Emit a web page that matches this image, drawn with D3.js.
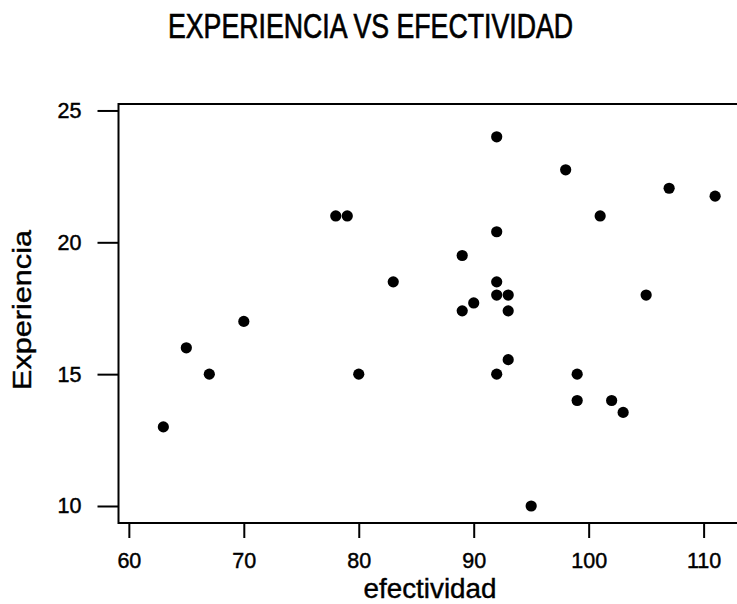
<!DOCTYPE html>
<html>
<head>
<meta charset="utf-8">
<script src="https://cdn.jsdelivr.net/npm/d3@7"></script>
<style>
  html, body { margin: 0; padding: 0; background: #fff; }
  svg { display: block; }
  text { font-family: "Liberation Sans", Arial, Helvetica, sans-serif; fill: #000; }
</style>
</head>
<body>
<svg id="chart" width="737" height="604"></svg>
<script>
// Efectividad (x) and years of experience (y) for each person
const efectividad = [63, 65, 67, 70, 78, 79, 80, 83, 89, 89, 90, 92, 92, 92, 92, 92,
                     93, 93, 93, 95, 98, 99, 99, 101, 102, 103, 105, 107, 111];
const experiencia = [13, 16, 15, 17, 21, 21, 15, 18.5, 19.5, 17.4, 17.7, 24, 20.4, 18.5, 18, 15,
                     18, 17.4, 15.55, 10, 22.75, 15, 14, 21, 14, 13.55, 18, 22.05, 21.75];
const xTicks = [60, 70, 80, 90, 100, 110];
const yTicks = [10, 15, 20, 25];

const titleText = "EXPERIENCIA VS EFECTIVIDAD";
const xLabel = "efectividad";
const yLabel = "Experiencia";

const svg = d3.select("#chart");

const frame = { left: 118.5, top: 104, bottom: 523, right: 745 };

const x = d3.scaleLinear().domain([59.1, 113.6]).range([frame.left, frame.right]);
const y = d3.scaleLinear().domain([9.355, 25.245]).range([frame.bottom, frame.top]);

// Plot frame (right side runs past the page edge)
svg.append("rect")
  .attr("x", frame.left).attr("y", frame.top)
  .attr("width", frame.right - frame.left).attr("height", frame.bottom - frame.top)
  .attr("fill", "none").attr("stroke", "#000").attr("stroke-width", 2);

// Y axis
const yAxis = svg.append("g")
  .attr("transform", `translate(${frame.left},0)`)
  .call(d3.axisLeft(y).tickValues(yTicks).tickSize(21).tickPadding(16).tickSizeOuter(0));
yAxis.select(".domain").remove();
yAxis.selectAll(".tick line").attr("stroke", "#000").attr("stroke-width", 2);
yAxis.selectAll(".tick text")
  .attr("font-size", 21.5).attr("font-family", null).attr("fill", "#000")
  .attr("stroke", "#000").attr("stroke-width", 0.45);

// X axis
const xAxis = svg.append("g")
  .attr("transform", `translate(0,${frame.bottom})`)
  .call(d3.axisBottom(x).tickValues(xTicks).tickSize(15).tickPadding(15).tickSizeOuter(0));
xAxis.select(".domain").remove();
xAxis.selectAll(".tick line").attr("stroke", "#000").attr("stroke-width", 2);
xAxis.selectAll(".tick text")
  .attr("font-size", 21.5).attr("font-family", null).attr("fill", "#000")
  .attr("stroke", "#000").attr("stroke-width", 0.45);

// Points
svg.append("g")
  .selectAll("circle")
  .data(efectividad.map((v, i) => [v, experiencia[i]]))
  .join("circle")
  .attr("cx", d => x(d[0]))
  .attr("cy", d => y(d[1]))
  .attr("r", 5.6)
  .attr("fill", "#000");

// Title
svg.append("text")
  .attr("x", 370.5).attr("y", 38)
  .attr("text-anchor", "middle")
  .attr("font-size", 35)
  .attr("stroke", "#000").attr("stroke-width", 0.7)
  .attr("textLength", 405).attr("lengthAdjust", "spacingAndGlyphs")
  .text(titleText);

// Axis titles
svg.append("text")
  .attr("x", 430).attr("y", 597.5)
  .attr("text-anchor", "middle")
  .attr("font-size", 27)
  .attr("stroke", "#000").attr("stroke-width", 0.4)
  .attr("textLength", 133).attr("lengthAdjust", "spacingAndGlyphs")
  .text(xLabel);

svg.append("text")
  .attr("transform", "translate(31,310) rotate(-90)")
  .attr("text-anchor", "middle")
  .attr("font-size", 26)
  .attr("stroke", "#000").attr("stroke-width", 0.4)
  .attr("textLength", 160).attr("lengthAdjust", "spacingAndGlyphs")
  .text(yLabel);
</script>
</body>
</html>
